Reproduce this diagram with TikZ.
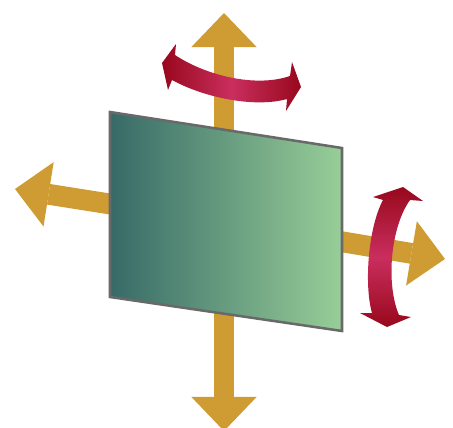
\documentclass[tikz,border=0pt]{standalone}
\usetikzlibrary{arrows.meta}
\definecolor{axisgold}{RGB}{207,156,52}
\definecolor{plateteal}{RGB}{55,106,103}
\definecolor{plategreen}{RGB}{152,206,152}
\definecolor{platerim}{RGB}{105,105,105}
\definecolor{turndark}{RGB}{152,8,28}
\definecolor{turnpink}{RGB}{201,46,94}
\begin{document}
\begin{tikzpicture}[x=0.025cm,y=-0.025cm,
  axis/.style={draw=axisgold, line width=0.52cm,
    -{Triangle[width=1.63cm,length=0.85cm,line width=0pt]}},
  plate/.style={draw=platerim, line width=1.8pt, line join=miter,
    left color=plateteal, right color=plategreen},
  turnh/.style={left color=turndark, right color=turndark, middle color=turnpink},
  turnv/.style={top color=turndark, bottom color=turndark, middle color=turnpink}]
\clip (0,0) rectangle (453,427);
% axes (behind the plate)
\coordinate (o) at (224,222);
\coordinate (up) at (224,13);
\coordinate (down) at (224,431);
\coordinate (left) at (15,189);
\coordinate (right) at (445,259);
\draw[axis] (o) -- (up);
\draw[axis] (o) -- (down);
\draw[axis] (o) -- (left);
\draw[axis] (o) -- (right);
% the plate
\coordinate (tl) at (110,112);
\coordinate (tr) at (342,148);
\coordinate (br) at (342,331);
\coordinate (bl) at (110,297);
\shadedraw[plate] (tl) -- (tr) -- (br) -- (bl) -- cycle;
% turn about the vertical axis
\shade[turnh] (175,55) -- (176,44) -- (162,63) -- (168,90) -- (172,80)
  .. controls (205,98) and (255,108) .. (287,99)
  -- (286,111) -- (301,87) -- (292,62) -- (290,76)
  .. controls (255,88) and (205,75) .. (175,55) -- cycle;
% turn about the horizontal axis
\shade[turnv] (383,200) -- (373,197) -- (403,187) -- (423,201) -- (410,200)
  .. controls (390,228) and (386,285) .. (399,315)
  -- (411,317) -- (387,327) -- (360,313) -- (372,313)
  .. controls (364,285) and (368,228) .. (383,200) -- cycle;
\end{tikzpicture}
\end{document}
